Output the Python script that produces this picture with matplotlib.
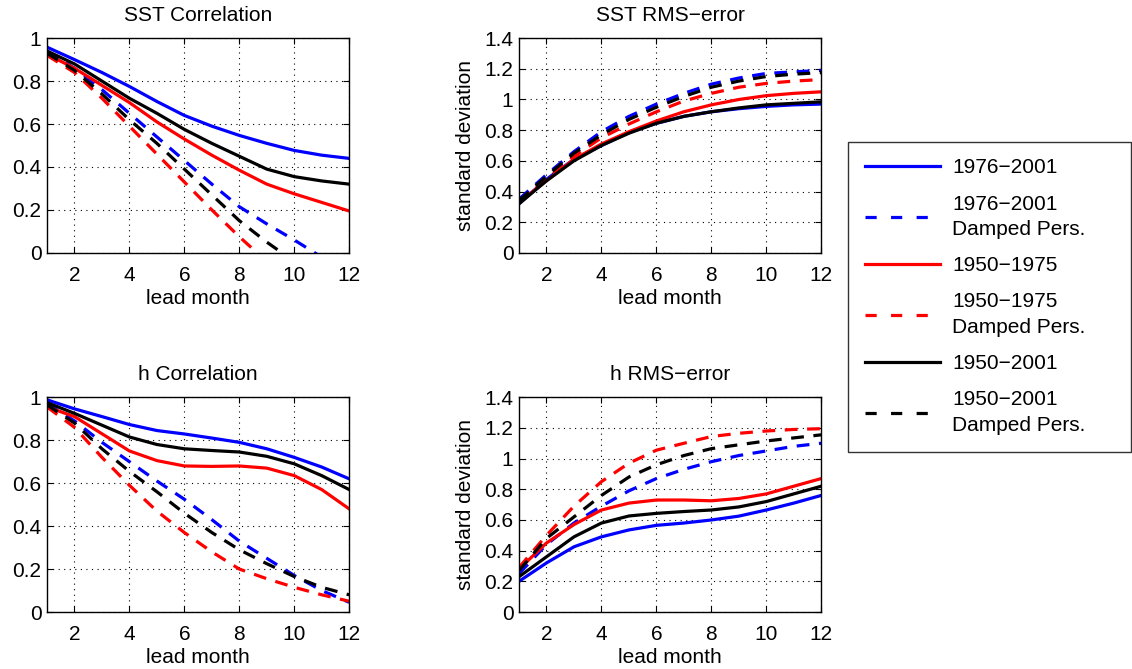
import matplotlib
matplotlib.use("Agg")
import matplotlib.pyplot as plt
from matplotlib.lines import Line2D
from matplotlib.ticker import FormatStrFormatter
import numpy as np

plt.rcParams['font.family'] = ['Liberation Sans', 'DejaVu Sans']

lead = np.arange(1, 13)

# SST correlation
sst_cor_7601 = [0.958, 0.90, 0.84, 0.775, 0.705, 0.64, 0.59, 0.547, 0.51, 0.477, 0.455, 0.44]
sst_cor_7601_dp = [0.94, 0.86, 0.76, 0.65, 0.54, 0.43, 0.32, 0.215, 0.135, 0.06, -0.02, -0.10]
sst_cor_5075 = [0.925, 0.86, 0.78, 0.70, 0.61, 0.53, 0.455, 0.385, 0.32, 0.275, 0.235, 0.195]
sst_cor_5075_dp = [0.92, 0.84, 0.72, 0.59, 0.46, 0.33, 0.20, 0.075, -0.04, -0.15, -0.26, -0.36]
sst_cor_5001 = [0.94, 0.88, 0.80, 0.72, 0.65, 0.575, 0.51, 0.45, 0.39, 0.355, 0.335, 0.32]
sst_cor_5001_dp = [0.93, 0.85, 0.74, 0.62, 0.51, 0.39, 0.27, 0.15, 0.05, -0.04, -0.13, -0.22]

# SST rms error
sst_rms_7601 = [0.32, 0.48, 0.61, 0.70, 0.785, 0.845, 0.89, 0.92, 0.94, 0.955, 0.965, 0.97]
sst_rms_7601_dp = [0.35, 0.51, 0.66, 0.79, 0.89, 0.97, 1.04, 1.10, 1.14, 1.17, 1.18, 1.19]
sst_rms_5075 = [0.33, 0.47, 0.61, 0.71, 0.79, 0.86, 0.92, 0.965, 1.00, 1.025, 1.04, 1.05]
sst_rms_5075_dp = [0.33, 0.48, 0.63, 0.75, 0.84, 0.92, 0.99, 1.04, 1.08, 1.105, 1.12, 1.13]
sst_rms_5001 = [0.32, 0.47, 0.60, 0.70, 0.78, 0.845, 0.89, 0.92, 0.945, 0.965, 0.975, 0.985]
sst_rms_5001_dp = [0.34, 0.50, 0.65, 0.77, 0.87, 0.95, 1.02, 1.08, 1.12, 1.15, 1.165, 1.175]

# h correlation
h_cor_7601 = [0.988, 0.946, 0.91, 0.873, 0.845, 0.829, 0.81, 0.79, 0.76, 0.72, 0.675, 0.62]
h_cor_7601_dp = [0.97, 0.89, 0.79, 0.70, 0.61, 0.525, 0.43, 0.33, 0.25, 0.17, 0.10, 0.045]
h_cor_5075 = [0.955, 0.91, 0.83, 0.75, 0.705, 0.68, 0.678, 0.68, 0.67, 0.635, 0.57, 0.48]
h_cor_5075_dp = [0.955, 0.86, 0.72, 0.59, 0.47, 0.37, 0.28, 0.20, 0.155, 0.115, 0.08, 0.05]
h_cor_5001 = [0.975, 0.925, 0.87, 0.815, 0.78, 0.76, 0.752, 0.745, 0.725, 0.69, 0.635, 0.57]
h_cor_5001_dp = [0.965, 0.88, 0.76, 0.655, 0.56, 0.46, 0.37, 0.29, 0.225, 0.165, 0.115, 0.08]

# h rms error
h_rms_7601 = [0.20, 0.32, 0.425, 0.49, 0.535, 0.565, 0.58, 0.60, 0.625, 0.665, 0.71, 0.76]
h_rms_7601_dp = [0.25, 0.44, 0.58, 0.69, 0.79, 0.87, 0.93, 0.98, 1.02, 1.05, 1.08, 1.10]
h_rms_5075 = [0.28, 0.45, 0.57, 0.665, 0.71, 0.73, 0.73, 0.725, 0.74, 0.77, 0.82, 0.87]
h_rms_5075_dp = [0.29, 0.50, 0.69, 0.85, 0.97, 1.055, 1.10, 1.144, 1.165, 1.18, 1.19, 1.195]
h_rms_5001 = [0.23, 0.36, 0.49, 0.58, 0.626, 0.643, 0.655, 0.665, 0.685, 0.72, 0.77, 0.82]
h_rms_5001_dp = [0.27, 0.48, 0.62, 0.76, 0.88, 0.96, 1.02, 1.065, 1.09, 1.115, 1.135, 1.155]

labels = ['1976\u22122001', '1976\u22122001\nDamped Pers.',
          '1950\u22121975', '1950\u22121975\nDamped Pers.',
          '1950\u22122001', '1950\u22122001\nDamped Pers.']
colors = ['#0000ff', '#0000ff', '#ff0000', '#ff0000', '#000000', '#000000']
styles = ['-', (0, (4, 3)), '-', (0, (4, 3)), '-', (0, (4, 3))]
leg_styles = ['-', (0, (3.5, 4.5)), '-', (0, (3.5, 4.5)), '-', (0, (3.5, 4.5))]

panels = [
    ('SST Correlation', [sst_cor_7601, sst_cor_7601_dp, sst_cor_5075, sst_cor_5075_dp, sst_cor_5001, sst_cor_5001_dp], 1.0, None),
    ('SST RMS\u2212error', [sst_rms_7601, sst_rms_7601_dp, sst_rms_5075, sst_rms_5075_dp, sst_rms_5001, sst_rms_5001_dp], 1.4, 'standard deviation'),
    ('h Correlation', [h_cor_7601, h_cor_7601_dp, h_cor_5075, h_cor_5075_dp, h_cor_5001, h_cor_5001_dp], 1.0, None),
    ('h RMS\u2212error', [h_rms_7601, h_rms_7601_dp, h_rms_5075, h_rms_5075_dp, h_rms_5001, h_rms_5001_dp], 1.4, 'standard deviation'),
]
positions = [[0.0415, 0.622, 0.267, 0.321], [0.4585, 0.622, 0.267, 0.321],
             [0.0415, 0.0852, 0.267, 0.321], [0.4585, 0.0852, 0.267, 0.321]]

fs = 15
fig = plt.figure(figsize=(11.32, 6.69), dpi=100)
for pos, (title, series, ymax, ylab) in zip(positions, panels):
    ax = fig.add_axes(pos)
    for y, c, ls in zip(series, colors, styles):
        ax.plot(lead, y, color=c, linestyle=ls, lw=2.3)
    ax.set_xlim(1, 12)
    ax.set_ylim(0, ymax)
    ax.set_xticks([2, 4, 6, 8, 10, 12])
    ax.set_yticks(np.arange(0, ymax + 0.01, 0.2))
    ax.yaxis.set_major_formatter(FormatStrFormatter('%g'))
    ax.grid(True, color='black', linestyle=(0, (1, 4)), lw=0.8)
    ax.tick_params(direction='in', top=True, right=True, labelsize=fs, length=4)
    ax.tick_params(axis='x', pad=9.5)
    ax.tick_params(axis='y', pad=4)
    ax.set_title(title, fontsize=fs, pad=12.5)
    ax.set_xlabel('lead month', fontsize=fs, labelpad=2.5)
    if ylab:
        ax.set_ylabel(ylab, fontsize=fs, labelpad=7)
    for s in ax.spines.values():
        s.set_linewidth(1.0)

# legend handles use a slightly sparser dash, as in the original figure
handles = [Line2D([], [], color=c, linestyle=ls, lw=2.3) for c, ls in zip(colors, leg_styles)]
leg = fig.legend(handles, labels, loc='upper left',
                 bbox_to_anchor=(0.749, 0.326, 0.25, 0.462), mode='expand',
                 fontsize=fs, frameon=True, fancybox=False, edgecolor='black',
                 handlelength=3.6, labelspacing=0.82, borderpad=0.8,
                 handletextpad=0.6, borderaxespad=0)
for t in leg.get_texts():
    t.set_linespacing(1.45)
leg.get_frame().set_linewidth(1.0)

fig.savefig('out.png', dpi=100)
